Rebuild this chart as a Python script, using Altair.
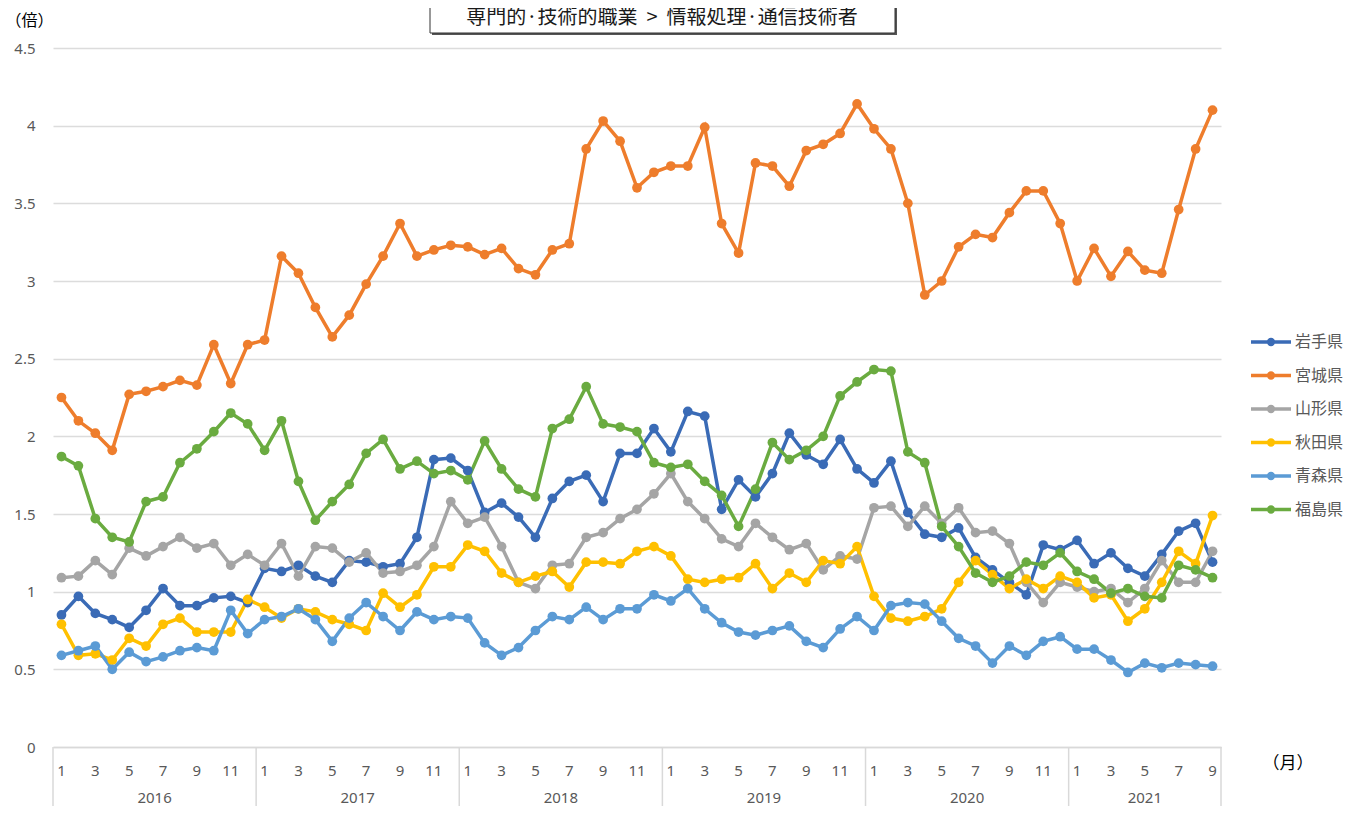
import json
import altair as alt
import pandas as pd

# ---------------- data ----------------
YEARS = [2016, 2017, 2018, 2019, 2020, 2021]
MONTHS_PER_YEAR = [12, 12, 12, 12, 12, 9]
SERIES = ["岩手県", "宮城県", "山形県", "秋田県", "青森県", "福島県"]
COLORS = ["#3A6BB6", "#EE7D2C", "#A5A5A5", "#FFC000", "#5B9BD5", "#6AAB40"]

IWATE = [0.85, 0.97, 0.86, 0.82, 0.77, 0.88, 1.02, 0.91, 0.91, 0.96, 0.97, 0.93,
         1.15, 1.13, 1.17, 1.10, 1.06, 1.20, 1.19, 1.16, 1.18, 1.35, 1.85, 1.86,
         1.78, 1.51, 1.57, 1.48, 1.35, 1.60, 1.71, 1.75, 1.58, 1.89, 1.89, 2.05,
         1.90, 2.16, 2.13, 1.53, 1.72, 1.61, 1.76, 2.02, 1.88, 1.82, 1.98, 1.79,
         1.70, 1.84, 1.51, 1.37, 1.35, 1.41, 1.22, 1.14, 1.06, 0.98, 1.30, 1.27,
         1.33, 1.18, 1.25, 1.15, 1.10, 1.24, 1.39, 1.44, 1.19]
MIYAGI = [2.25, 2.10, 2.02, 1.91, 2.27, 2.29, 2.32, 2.36, 2.33, 2.59, 2.34, 2.59,
          2.62, 3.16, 3.05, 2.83, 2.64, 2.78, 2.98, 3.16, 3.37, 3.16, 3.20, 3.23,
          3.22, 3.17, 3.21, 3.08, 3.04, 3.20, 3.24, 3.85, 4.03, 3.90, 3.60, 3.70,
          3.74, 3.74, 3.99, 3.37, 3.18, 3.76, 3.74, 3.61, 3.84, 3.88, 3.95, 4.14,
          3.98, 3.85, 3.50, 2.91, 3.00, 3.22, 3.30, 3.28, 3.44, 3.58, 3.58, 3.37,
          3.00, 3.21, 3.03, 3.19, 3.07, 3.05, 3.46, 3.85, 4.10]
YAMAGATA = [1.09, 1.10, 1.20, 1.11, 1.28, 1.23, 1.29, 1.35, 1.28, 1.31, 1.17, 1.24,
            1.17, 1.31, 1.10, 1.29, 1.28, 1.19, 1.25, 1.12, 1.13, 1.17, 1.29, 1.58,
            1.44, 1.48, 1.29, 1.06, 1.02, 1.17, 1.18, 1.35, 1.38, 1.47, 1.53, 1.63,
            1.76, 1.58, 1.47, 1.34, 1.29, 1.44, 1.35, 1.27, 1.31, 1.14, 1.23, 1.21,
            1.54, 1.55, 1.42, 1.55, 1.44, 1.54, 1.38, 1.39, 1.31, 1.06, 0.93, 1.06,
            1.03, 1.00, 1.02, 0.93, 1.02, 1.20, 1.06, 1.06, 1.26]
AKITA = [0.79, 0.59, 0.60, 0.56, 0.70, 0.65, 0.79, 0.83, 0.74, 0.74, 0.74, 0.95,
         0.90, 0.83, 0.89, 0.87, 0.82, 0.79, 0.75, 0.99, 0.90, 0.98, 1.16, 1.16,
         1.30, 1.26, 1.12, 1.06, 1.10, 1.13, 1.03, 1.19, 1.19, 1.18, 1.26, 1.29,
         1.23, 1.08, 1.06, 1.08, 1.09, 1.18, 1.02, 1.12, 1.06, 1.20, 1.18, 1.29,
         0.97, 0.83, 0.81, 0.84, 0.89, 1.06, 1.20, 1.11, 1.02, 1.08, 1.02, 1.10,
         1.06, 0.96, 0.98, 0.81, 0.89, 1.06, 1.26, 1.18, 1.49]
AOMORI = [0.59, 0.62, 0.65, 0.50, 0.61, 0.55, 0.58, 0.62, 0.64, 0.62, 0.88, 0.73,
          0.82, 0.84, 0.89, 0.82, 0.68, 0.83, 0.93, 0.84, 0.75, 0.87, 0.82, 0.84,
          0.83, 0.67, 0.59, 0.64, 0.75, 0.84, 0.82, 0.90, 0.82, 0.89, 0.89, 0.98,
          0.94, 1.02, 0.89, 0.80, 0.74, 0.72, 0.75, 0.78, 0.68, 0.64, 0.76, 0.84,
          0.75, 0.91, 0.93, 0.92, 0.81, 0.70, 0.65, 0.54, 0.65, 0.59, 0.68, 0.71,
          0.63, 0.63, 0.56, 0.48, 0.54, 0.51, 0.54, 0.53, 0.52]
FUKUSHIMA = [1.87, 1.81, 1.47, 1.35, 1.32, 1.58, 1.61, 1.83, 1.92, 2.03, 2.15, 2.08,
             1.91, 2.10, 1.71, 1.46, 1.58, 1.69, 1.89, 1.98, 1.79, 1.84, 1.76, 1.78,
             1.72, 1.97, 1.79, 1.66, 1.61, 2.05, 2.11, 2.32, 2.08, 2.06, 2.03, 1.83,
             1.80, 1.82, 1.71, 1.62, 1.42, 1.66, 1.96, 1.85, 1.91, 2.00, 2.26, 2.35,
             2.43, 2.42, 1.90, 1.83, 1.42, 1.29, 1.12, 1.06, 1.10, 1.19, 1.17, 1.25,
             1.13, 1.08, 0.99, 1.02, 0.97, 0.96, 1.17, 1.14, 1.09]

TITLE = "専門的·技術的職業\u00a0\u00a0>\u00a0\u00a0情報処理·通信技術者"
Y_TITLE = "（倍）"
X_TITLE = "（月）"
Y_TICKS = [0, 0.5, 1, 1.5, 2, 2.5, 3, 3.5, 4, 4.5]

# ---------------- tables ----------------
month_labels = []
year_rows = []
idx = 0
for y, n in zip(YEARS, MONTHS_PER_YEAR):
    year_rows.append({"year": str(y), "start": idx - 0.5, "center": idx + (n - 1) / 2})
    for m in range(1, n + 1):
        month_labels.append(m)
        idx += 1
N = idx
bounds = [r["start"] for r in year_rows] + [N - 0.5]

values = [IWATE, MIYAGI, YAMAGATA, AKITA, AOMORI, FUKUSHIMA]
rows = []
for name, vals in zip(SERIES, values):
    for i, v in enumerate(vals):
        rows.append({"idx": i, "pref": name, "v": v})
df = pd.DataFrame(rows)
years_df = pd.DataFrame(year_rows)
bounds_df = pd.DataFrame({"b": bounds})
title_df = pd.DataFrame({"t": [TITLE]})
months_df = pd.DataFrame([{"idx": i, "m": str(m)} for i, m in enumerate(month_labels)
                          if m % 2 == 1])

W, H = 1168, 699
FONT = "Noto Sans CJK JP"
NUMFONT = "Noto Sans"
GRAY = "#595959"

xscale = alt.Scale(domain=[-0.5, N - 0.5], nice=False, zero=False)
xaxis = alt.Axis(title=X_TITLE, labels=False, grid=False, ticks=False, domain=True,
                 domainColor="#D9D9D9", domainWidth=1.5,
                 titleFont=FONT, titleFontSize=17, titleFontWeight="normal",
                 titleColor="#000000", titleAngle=0, titleAlign="left",
                 titleBaseline="middle", titleX=1209, titleY=16)

legend_symbol = ("M-1,0L1,0M0.12,0A0.12,0.12,0,1,1,-0.12,0"
                 "A0.12,0.12,0,1,1,0.12,0Z")

lines = alt.Chart(df).mark_line(
    strokeWidth=3.5,
    point=alt.OverlayMarkDef(filled=True, size=95, opacity=1),
).encode(
    x=alt.X("idx:Q", scale=xscale, axis=xaxis),
    y=alt.Y("v:Q", scale=alt.Scale(domain=[0, 4.5], nice=False),
            axis=alt.Axis(values=Y_TICKS, format="~g", title=Y_TITLE,
                          grid=True, gridColor="#DCDCDC", gridWidth=1.5,
                          ticks=False, domain=False,
                          labelFont=NUMFONT, labelFontSize=15, labelColor=GRAY,
                          labelPadding=18,
                          titleFont=FONT, titleFontSize=16, titleFontWeight="normal",
                          titleColor="#000000", titleAngle=0, titleAlign="left",
                          titleBaseline="middle", titleX=-48, titleY=-28)),
    color=alt.Color("pref:N", scale=alt.Scale(domain=SERIES, range=COLORS),
                    sort=SERIES,
                    legend=alt.Legend(title=None, orient="none", legendX=1196,
                                      legendY=280, padding=0,
                                      symbolType=legend_symbol, symbolSize=1600,
                                      symbolStrokeWidth=3.5, clipHeight=28,
                                      rowPadding=5.5, labelOffset=2,
                                      labelFont=FONT, labelFontSize=16,
                                      labelColor=GRAY)),
    detail="pref:N",
)

seps = alt.Chart(bounds_df).mark_rule(color="#D9D9D9", strokeWidth=1.5).encode(
    x=alt.X("b:Q", scale=xscale, axis=xaxis),
    y=alt.value(H),
    y2=alt.value(H + 60),
)

month_text = alt.Chart(months_df).mark_text(
    font=NUMFONT, fontSize=15, color=GRAY, baseline="middle", align="center"
).encode(
    x=alt.X("idx:Q", scale=xscale, axis=xaxis),
    y=alt.value(H + 24),
    text="m:N",
)

year_text = alt.Chart(years_df).mark_text(
    font=NUMFONT, fontSize=15, color=GRAY, baseline="middle", align="center"
).encode(
    x=alt.X("center:Q", scale=xscale, axis=xaxis),
    y=alt.value(H + 51),
    text="year:N",
)

shadow = alt.Chart(title_df).mark_rect(fill="#555555").encode(
    x=alt.value(379), x2=alt.value(844), y=alt.value(-52), y2=alt.value(-13)
)
box = alt.Chart(title_df).mark_rect(fill="white", stroke="#333333", strokeWidth=1).encode(
    x=alt.value(377), x2=alt.value(842), y=alt.value(-54), y2=alt.value(-15)
)
title_text = alt.Chart(title_df).mark_text(
    font=FONT, fontSize=20, color="#1a1a1a", baseline="middle", align="center"
).encode(x=alt.value(609), y=alt.value(-30), text="t:N")

chart = alt.layer(seps, month_text, year_text, lines, shadow, box, title_text).properties(
    width=W, height=H,
    padding={"left": 45, "top": 40, "right": 130, "bottom": 59},
    autosize=alt.AutoSizeParams(type="none"),
).configure_view(stroke=None)

chart.save("out.html", embed_options={"renderer": "svg", "actions": False})
